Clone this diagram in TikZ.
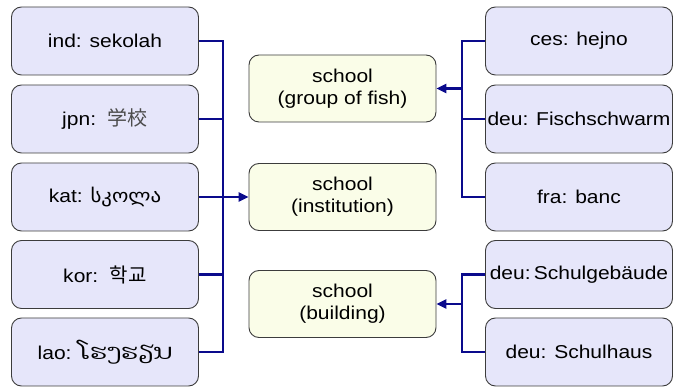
\documentclass[tikz,border=0pt]{standalone}
\usepackage{fontspec}
\setmainfont{Liberation Sans}[FakeStretch=1.13]
\newfontfamily\geofont{DejaVu Sans}[FakeStretch=1.12]
\newfontfamily\laofont[Script=Lao,FakeStretch=1.25]{Dhyana}
\newfontfamily\jpfont{Noto Sans CJK JP}
\newfontfamily\krfont{Noto Sans CJK KR}
\usetikzlibrary{arrows.meta}
\definecolor{lav}{RGB}{230,230,250}
\definecolor{pale}{RGB}{250,253,232}
\definecolor{edge}{RGB}{60,60,60}
\definecolor{navyline}{RGB}{10,10,140}
\begin{document}
\begin{tikzpicture}[x=1pt,y=-1pt,
  word/.style={draw=edge,line width=0.9pt,fill=lav,rounded corners=10pt,
    minimum width=187pt,minimum height=68pt,inner sep=0pt,align=center,
    font=\fontsize{18.6}{22}\selectfont},
  sense/.style={draw=edge,line width=0.9pt,fill=pale,rounded corners=10pt,
    minimum width=187pt,minimum height=67pt,inner sep=0pt,align=center,
    font=\fontsize{18.6}{22}\selectfont},
  conn/.style={draw=navyline,line width=2.6pt},
  arr/.style={conn,-{Triangle[length=10pt,width=9pt]}}]
\useasboundingbox (0,0) rectangle (675,387);
% left column
\node[word] (ind) at (105,41) {ind: sekolah};
\node[word] (jpn) at (105,119) {jpn:\ \ {\jpfont\fontsize{20}{22}\selectfont\color[gray]{0.3}学校}};
\node[word] (kat) at (105,197) {kat: {\geofont\fontsize{18.6}{22}\selectfont სკოლა}};
\node[word] (kor) at (105,274.5) {kor:\ \ {\krfont\fontsize{20}{22}\selectfont 학교}};
\node[word] (lao) at (105,352) {lao: {\laofont\fontsize{21}{22}\selectfont ໂຮງຮຽນ}};
% middle column
\node[sense] (fish) at (342.5,88.5) {school\\(group of fish)};
\node[sense] (inst) at (342.5,197) {school\\(institution)};
\node[sense] (bldg) at (342.5,304) {school\\(building)};
% right column
\node[word] (ces) at (579,41) {ces: hejno};
\node[word] (deuF) at (579,119) {deu: Fischschwarm};
\node[word] (fra) at (579,197) {fra: banc};
\node[word] (deuG) at (579,274.5) {deu:\,Schulgebäude};
\node[word] (deuH) at (579,352) {deu: Schulhaus};
% buses
\coordinate (busL) at (223,0);
\coordinate (busR) at (462,0);
\draw[conn] (ind.east) -- (ind.east -| busL) -- (lao.east -| busL) -- (lao.east);
\draw[conn] (jpn.east) -- (jpn.east -| busL);
\draw[conn] (kor.east) -- (kor.east -| busL);
\draw[arr] (kat.east) -- (inst.west);
\draw[conn] (ces.west) -- (ces.west -| busR) -- (fra.west -| busR) -- (fra.west);
\draw[conn] (deuF.west) -- (deuF.west -| busR);
\draw[arr] (fish.east -| busR) -- (fish.east);
\draw[conn] (deuG.west) -- (deuG.west -| busR) -- (deuH.west -| busR) -- (deuH.west);
\draw[arr] (bldg.east -| busR) -- (bldg.east);
\end{tikzpicture}
\end{document}
